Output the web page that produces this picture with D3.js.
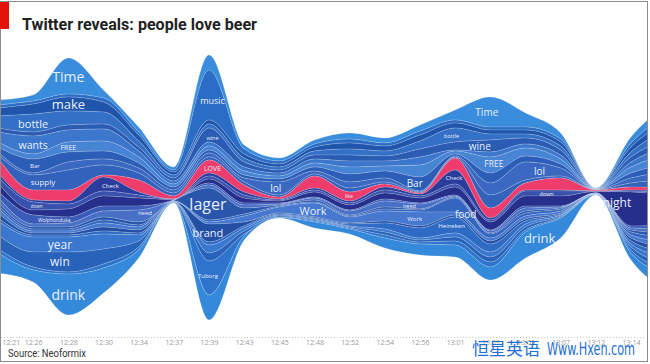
<!DOCTYPE html>
<html lang="en">
<head>
<meta charset="UTF-8">
<title>Twitter reveals: people love beer</title>
<script src="https://cdn.jsdelivr.net/npm/d3@7"></script>
<style>
  body { margin: 0; background: #fff; }
  svg { display: block; }
</style>
</head>
<body>
<script>

// minute labels along the bottom (13:03 and 13:05 sit under the watermark)
var times = ["12:21", "12:26", "12:28", "12:30", "12:34", "12:37", "12:39", "12:43", "12:45", "12:48",
             "12:52", "12:54", "12:56", "13:01", "13:03", "13:05", "13:07", "13:12", "13:14"];

// stream baseline (mentions) per sample, one extra sample past 13:14
var topGap = [100, 95, 58, 90, 127, 167, 55, 145, 158, 140, 133, 138, 125, 110, 97, 113, 133, 188, 137, 105];

// mentions per word, top of the stream to the bottom
var Time        = [5, 6, 36, 8, 5, 3, 15, 4, 3, 4, 6, 5, 6, 10, 30, 14, 6, .2, 6, 10];
var music       = [3, 3, 3, 4, 3, 2, 50, 5, 3, 3, 4, 3, 4, 3, 3, 3, 3, .2, 4, 6];
var make        = [8, 10, 14, 10, 6, 3, 4, 4, 3, 4, 6, 5, 6, 5, 4, 4, 4, .2, 5, 8];
var bottle      = [12, 18, 14, 12, 6, 3, 4, 4, 3, 4, 6, 5, 8, 14, 6, 4, 4, .2, 5, 9];
var wine        = [4, 4, 5, 5, 4, 3, 14, 5, 3, 4, 6, 5, 8, 8, 12, 6, 5, .2, 5, 8];
var wants       = [10, 18, 12, 12, 6, 3, 4, 4, 3, 4, 6, 5, 8, 1, 5, 4, 4, .2, 5, 9];
var FREE        = [5, 5, 10, 10, 6, 3, 4, 4, 3, 4, 7, 5, 12, 3, 16, 8, 5, .2, 6, 9];
var Bar         = [5, 14, 10, 8, 5, 3, 3, 3, 3, 4, 8, 7, 14, 2, 10, 6, 4, .2, 5, 8];
var lol         = [3, 2, 8, 6, 5, 3, 4, 4, 13, 3, 6, 4, 1, 1, 12, 18, 8, .2, 5, 8];
var supply      = [3, 15, 20, 10, 7, 3, 3, 3, 2, 2, 4, 2, 1, 1, 13, 3, 2, .2, 4, 8];
var LOVE        = [15, 10, 11, 2, 12, 3, 13, 7, 2, 12, 9, 3, 1, 12, 10, 7, 12, 1, 3, 3];
var Check       = [4, 2, 3, 14, 3, .3, 3, 3, 1, 2, 2, 3, 2, 14, 2, 1, 1, .2, 1, 2];
var down        = [6, 8, 5, 5, 3, .3, 3, 3, 1, 2, 2, 3, 2, 3, 2, 5, 5, .2, 1, 2];
var night       = [8, 5, 8, 10, 8, .4, 4, 5, 2, 5, 5, 6, 5, 8, 8, 10, 10, 1.4, 34, 30];
var Wolphonduka = [6, 9, 6, 5, 4, .3, 2, 2, 1, 1, 1, 2, 1, 1, 1, 2, 1, .2, 2, 4];
var need        = [5, 3, 4, 6, 12, .3, 3, 3, 1, 2, 4, 6, 5, 1, 2, 3, 1, .2, 2, 4];
var lager       = [3, 2, 2, 3, 3, .3, 32, 6, 1, 2, 1, 2, 1, 1, 1, 2, 1, .2, 2, 4];
var food        = [3, 2, 2, 3, 2, .2, 2, 2, 1, 1, 1, 2, 2, 14, 4, 3, 2, .2, 3, 5];
var Work        = [5, 2, 2, 4, 3, .3, 2, 6, 6, 14, 6, 10, 14, 3, 3, 3, 2, .2, 3, 5];
var brand       = [5, 2, 2, 4, 3, .3, 18, 4, 1, 1, 1, 2, 2, 2, 3, 2, 1, .2, 3, 5];
var Heineken    = [3, 2, 2, 3, 2, .2, 3, 2, 1, 1, 2, 6, 10, 16, 8, 3, 1, .2, 3, 5];
var year        = [14, 15, 15, 15, 6, .3, 8, 3, 1, 1, 1, 3, 2, 4, 5, 3, 1, .2, 3, 6];
var win         = [14, 15, 20, 15, 6, .3, 8, 3, 1, 1, 1, 3, 2, 4, 5, 3, 1, .2, 3, 6];
var Tuborg      = [4, 3, 2, 4, 3, .2, 34, 2, .5, 1, 1, 3, 2, 4, 5, 2, 1, .2, 3, 6];
var drink       = [20, 12, 41, 25, 8, .3, 25, 4, .5, 6, 5, 10, 11, 12, 13, 26, 20, .2, 7, 15];

var words = ["Time", "music", "make", "bottle", "wine", "wants", "FREE", "Bar", "lol", "supply", "LOVE",
             "Check", "down", "night", "Wolphonduka", "need", "lager", "food", "Work", "brand", "Heineken",
             "year", "win", "Tuborg", "drink"];
var counts = [Time, music, make, bottle, wine, wants, FREE, Bar, lol, supply, LOVE,
              Check, down, night, Wolphonduka, need, lager, food, Work, brand, Heineken,
              year, win, Tuborg, drink];

// word labels: [text, layer, sample index]
var labels = [
    ["Time", "Time", 2], ["Time", "Time", 13.9], ["make", "make", 2],
    ["bottle", "bottle", 1], ["bottle", "bottle", 12.9], ["wants", "wants", 1],
    ["FREE", "FREE", 2], ["FREE", "FREE", 14.1], ["wine", "wine", 6.1], ["wine", "wine", 13.7],
    ["music", "music", 6.1], ["Bar", "Bar", 1.05], ["Bar", "Bar", 11.85],
    ["lol", "lol", 7.9], ["lol", "lol", 15.4], ["supply", "supply", 1.28],
    ["LOVE", "LOVE", 6.1], ["like", "LOVE", 9.98], ["Check", "Check", 3.2], ["Check", "Check", 12.97],
    ["down", "down", 1.1], ["down", "down", 15.6], ["night", "night", 17.6],
    ["Wolphonduka", "Wolphonduka", 1.6], ["need", "need", 4.18], ["need", "need", 11.7],
    ["lager", "lager", 5.97], ["food", "food", 13.3], ["Work", "Work", 8.96], ["Work", "Work", 11.85],
    ["brand", "brand", 5.97], ["Heineken", "Heineken", 12.9], ["year", "year", 1.76],
    ["win", "win", 1.76], ["Tuborg", "Tuborg", 5.97], ["drink", "drink", 2], ["drink", "drink", 15.4]
];
var labelSize = [14, 10, 13, 11, 5.5, 10.5, 7, 8.5, 5.5, 10, 9, 6, 10, 10, 10, 8,
                 7, 5, 6, 6, 4.5, 5.5, 12, 5, 6, 5.5, 16, 10, 11, 6, 11, 6, 12, 12, 6, 14, 13];

var palette = ["#3a8ddc", "#2b6cc4", "#1f55ab", "#3470c6", "#2a5cb4", "#3c77cc", "#4884d4", "#2c5eb7",
               "#3b69c1", "#3262bb", "#ee3d6c", "#2b3d9c", "#3851ac", "#262f8c", "#3a5cb8", "#4870c7",
               "#2955ab", "#3466bf", "#4578ce", "#2350a5", "#2f6bc4", "#3a78cf", "#2862b9", "#2e74cc",
               "#3489da"];

var width = 650, height = 364;

var svg = d3.select("body").append("svg")
    .attr("width", width)
    .attr("height", height);

var x = d3.scaleLinear().domain([0, 18]).range([-2, 631]);
var y = d3.scaleLinear().domain([0, 340]).range([0, 340]);

var table = d3.range(topGap.length).map(function (j) {
    var row = {};
    words.forEach(function (w, k) { row[w] = counts[k][j]; });
    return row;
});

var stack = d3.stack()
    .keys(words)
    .offset(function (series, order) {
        d3.stackOffsetNone(series, order);
        for (var j = 0; j < topGap.length; j++) {
            for (var k = 0; k < series.length; k++) {
                series[k][j][0] += topGap[j];
                series[k][j][1] += topGap[j];
            }
        }
    });
var series = stack(table);

svg.append("clipPath").attr("id", "frame")
    .append("rect")
    .attr("x", 1).attr("y", 3)
    .attr("width", 646).attr("height", 332);

var area = d3.area()
    .x(function (d, i) { return x(i); })
    .y0(function (d) { return y(d[0]); })
    .y1(function (d) { return y(d[1]); })
    .curve(d3.curveMonotoneX);

svg.append("g")
    .attr("clip-path", "url(#frame)")
    .selectAll("path")
    .data(series)
    .join("path")
    .attr("fill", function (d, k) { return palette[k]; })
    .attr("stroke", "rgba(255,255,255,0.22)")
    .attr("stroke-width", 0.7)
    .attr("d", area);

// labels sit in the middle of their layer
function layerMid(word, t) {
    var s = series[words.indexOf(word)];
    var j = Math.min(Math.floor(t), topGap.length - 2), f = t - j;
    var a = (s[j][0] + s[j][1]) / 2, b = (s[j + 1][0] + s[j + 1][1]) / 2;
    return y(a + (b - a) * f);
}

svg.append("g")
    .selectAll("text")
    .data(labels)
    .join("text")
    .attr("x", function (d) { return x(d[2]); })
    .attr("y", function (d) { return layerMid(d[1], d[2]); })
    .attr("text-anchor", "middle")
    .attr("dominant-baseline", "central")
    .attr("font-family", "'Open Sans', 'Noto Sans', sans-serif")
    .attr("font-size", function (d, i) { return labelSize[i] + "px"; })
    .attr("fill", "#e8effa")
    .text(function (d) { return d[0]; });

// time axis
var axis = svg.append("g")
    .attr("transform", "translate(0,337)")
    .call(d3.axisBottom(x)
        .tickValues(d3.range(times.length))
        .tickFormat(function (i) { return times[i]; })
        .tickSize(0)
        .tickPadding(3));
axis.select(".domain").remove();
axis.selectAll("text")
    .attr("font-family", "'Open Sans', sans-serif")
    .attr("font-size", "7px")
    .attr("fill", "#9a9a9a");
axis.select(".tick text").attr("text-anchor", "start").attr("x", 4);

svg.append("line")
    .attr("x1", 1).attr("x2", 646)
    .attr("y1", 337.5).attr("y2", 337.5)
    .attr("stroke", "#c8c8c8")
    .attr("stroke-dasharray", "1,2");

// frame, flag and title
svg.append("rect")
    .attr("x", 0.5).attr("y", 1.5)
    .attr("width", 647).attr("height", 360)
    .attr("fill", "none")
    .attr("stroke", "#8c8c8c");

svg.append("rect")
    .attr("x", 0).attr("y", 2)
    .attr("width", 9).attr("height", 27)
    .attr("fill", "#e3120b");

svg.append("text")
    .attr("x", 22).attr("y", 30)
    .attr("font-family", "Roboto, 'Open Sans', sans-serif")
    .attr("font-weight", "bold")
    .attr("font-size", "17px")
    .attr("fill", "#222")
    .attr("textLength", 235)
    .attr("lengthAdjust", "spacingAndGlyphs")
    .text("Twitter reveals: people love beer");

svg.append("text")
    .attr("x", 8).attr("y", 357)
    .attr("font-family", "Roboto, 'Open Sans', sans-serif")
    .attr("font-size", "10px")
    .attr("fill", "#333")
    .attr("textLength", 78)
    .attr("lengthAdjust", "spacingAndGlyphs")
    .text("Source: Neoformix");

// watermark over the last ticks
svg.append("text")
    .attr("x", 472).attr("y", 355)
    .attr("font-family", "'Noto Sans CJK SC', sans-serif")
    .attr("font-size", "17px")
    .attr("fill", "#1e6fd6")
    .attr("textLength", 68)
    .attr("lengthAdjust", "spacingAndGlyphs")
    .text("恒星英语");

svg.append("text")
    .attr("x", 547).attr("y", 355)
    .attr("font-family", "'Liberation Sans Narrow', 'DejaVu Sans Condensed', sans-serif")
    .attr("font-size", "18px")
    .attr("fill", "#1e6fd6")
    .attr("textLength", 88)
    .attr("lengthAdjust", "spacingAndGlyphs")
    .text("Www.Hxen.com");

</script>
</body>
</html>
